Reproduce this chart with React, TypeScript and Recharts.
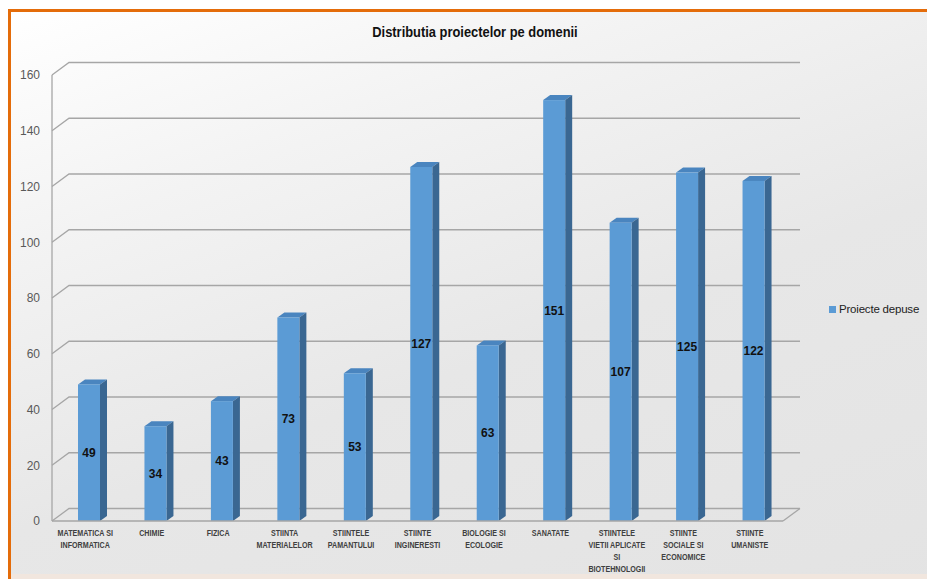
import { Bar, BarChart, CartesianGrid, LabelList, ReferenceLine, XAxis, YAxis } from "recharts";

const categories = [
  ["MATEMATICA SI", "INFORMATICA"],
  ["CHIMIE"],
  ["FIZICA"],
  ["STIINTA", "MATERIALELOR"],
  ["STIINTELE", "PAMANTULUI"],
  ["STIINTE", "INGINERESTI"],
  ["BIOLOGIE SI", "ECOLOGIE"],
  ["SANATATE"],
  ["STIINTELE", "VIETII APLICATE", "SI", "BIOTEHNOLOGII"],
  ["STIINTE", "SOCIALE SI", "ECONOMICE"],
  ["STIINTE", "UMANISTE"]
];
const categoryNames = categories.map((c) => c.join(" "));
const proiecteDepuse = [49, 34, 43, 73, 53, 127, 63, 151, 107, 125, 122];
const yTicks = [0, 20, 40, 60, 80, 100, 120, 140, 160];

const data = categoryNames.map((name, i) => ({ name, depuse: proiecteDepuse[i] }));

// depth of the 3d back wall
const DX = 17;
const DY = 12.5;
const gridColor = "#a6a6a6";
const sans = "'Liberation Sans', Arial, sans-serif";

const gridLine = (p: any) => {
  const { x1, y1, x2 } = p;
  return (
    <polyline
      key={p.key ?? `g-${y1}`}
      points={`${x1},${y1} ${x1 + DX},${y1 - DY} ${x2 + DX},${y1 - DY}`}
      fill="none"
      stroke={gridColor}
      strokeWidth={1.3}
    />
  );
};

const floorLine = (p: any) => {
  const { x1, y1, x2 } = p;
  return (
    <g>
      <line x1={x1} y1={y1} x2={x2} y2={y1} stroke={gridColor} strokeWidth={1.3} />
      <line x1={x2} y1={y1} x2={x2 + DX} y2={y1 - DY} stroke={gridColor} strokeWidth={1.3} />
    </g>
  );
};

const Bar3D = (p: any) => {
  const { x, y, width, height } = p;
  if (!height || height <= 0) return null;
  const left = x + 4;
  const right = left + width;
  const sd = 7;
  const su = 5;
  return (
    <g>
      <polygon
        points={`${left},${y} ${left + sd},${y - su} ${right + sd},${y - su} ${right},${y}`}
        fill="#4a85bf"
      />
      <polygon
        points={`${right},${y} ${right + sd},${y - su} ${right + sd},${y + height - su} ${right},${y + height}`}
        fill="#3a6792"
      />
      <rect x={left} y={y} width={width} height={height} fill="#5b9bd5" />
    </g>
  );
};

const CategoryTick = (p: any) => {
  const { x, y, payload } = p;
  const lines = categories[categoryNames.indexOf(payload.value)] || [payload.value];
  return (
    <g transform={`translate(${x},${y}) scale(0.84,1)`}>
      <text x={0} y={0} textAnchor="middle" fill="#404040" fontSize={8.5} fontWeight="bold" fontFamily={sans}>
        {lines.map((l, i) => (
          <tspan key={i} x={0} dy={i === 0 ? 15 : 12}>
            {l}
          </tspan>
        ))}
      </text>
    </g>
  );
};

const ValueLabel = (p: any) => {
  const vb = p.viewBox ?? p;
  const { x, y, width, height } = vb;
  return (
    <text
      x={x + width / 2 + 4}
      y={y + height / 2}
      textAnchor="middle"
      dominantBaseline="central"
      fontSize={12}
      fontWeight="bold"
      fill="#111"
      fontFamily={sans}
    >
      {p.value}
    </text>
  );
};

export default function App() {
  return (
    <div style={{ position: "fixed", inset: 0, overflow: "hidden", background: "#fff" }}>
      <div
        style={{
          position: "absolute",
          left: 8,
          top: 9,
          width: 960,
          height: 600,
          borderTop: "3px solid #e46c0a",
          borderLeft: "3px solid #e46c0a",
          background: "linear-gradient(160deg, #ffffff 0%, #f3f3f3 25%, #e7e7e7 55%, #e3e3e3 100%)"
        }}
      />
      <div style={{ position: "absolute", left: 11, top: 574, width: 940, height: 6, background: "#f1e6de" }} />
      <div
        style={{
          position: "absolute",
          left: 0,
          top: 24,
          width: 950,
          textAlign: "center",
          fontFamily: sans,
          fontWeight: "bold",
          fontSize: 14,
          color: "#111",
          transform: "scaleX(0.92)",
          transformOrigin: "475px 0"
        }}
      >
        Distributia proiectelor pe domenii
      </div>
      <div style={{ position: "absolute", left: 0, top: 0 }}>
        <BarChart
          width={927}
          height={579}
          data={data}
          margin={{ top: 75, right: 144, left: 0, bottom: 0 }}
          barSize={22}
        >
          <CartesianGrid vertical={false} horizontal={gridLine} />
          <XAxis
            dataKey="name"
            interval={0}
            height={58}
            tickLine={false}
            tickSize={0}
            tickMargin={0}
            axisLine={false}
            tick={<CategoryTick />}
          />
          <YAxis
            width={52}
            domain={[0, 160]}
            ticks={yTicks}
            tickLine={false}
            tickSize={0}
            tickMargin={12}
            axisLine={{ stroke: gridColor, strokeWidth: 1.3 }}
            tick={{ fill: "#595959", fontSize: 12, fontFamily: sans }}
          />
          <ReferenceLine y={0} shape={floorLine} />
          <Bar dataKey="depuse" name="Proiecte depuse" shape={<Bar3D />} isAnimationActive={false}>
            <LabelList dataKey="depuse" position="center" content={ValueLabel} />
          </Bar>
        </BarChart>
      </div>
      <div
        style={{
          position: "absolute",
          left: 829,
          top: 303,
          display: "flex",
          alignItems: "center",
          fontFamily: sans,
          fontSize: 11.5,
          letterSpacing: -0.2,
          color: "#222"
        }}
      >
        <span style={{ width: 7, height: 7, background: "#5b9bd5", marginRight: 3, display: "inline-block" }} />
        <span>Proiecte depuse</span>
      </div>
    </div>
  );
}
